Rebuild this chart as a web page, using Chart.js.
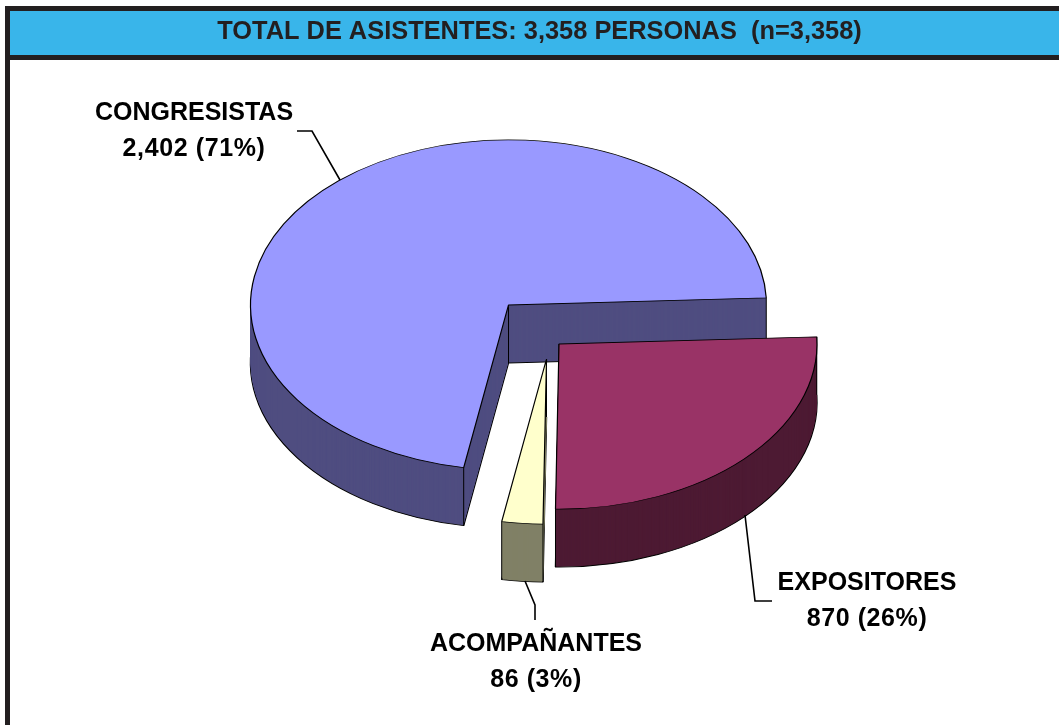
<!DOCTYPE html>
<html>
<head>
<meta charset="utf-8">
<style>html,body{margin:0;padding:0;background:#fff}canvas{display:block}</style>
<script src="https://cdn.jsdelivr.net/npm/chart.js@4"></script>
</head>
<body>
<canvas id="c" width="1059" height="725"></canvas>
<script>
const categories = ['CONGRESISTAS', 'EXPOSITORES', 'ACOMPAÑANTES'];
const values = [2402, 870, 86];
const shares = [71, 26, 3];
const chartTitle = 'TOTAL DE ASISTENTES: 3,358 PERSONAS  (n=3,358)';

const topColors = ['#9999ff', '#993366', '#ffffcc'];
const sideColors = ['#4f4d80', '#4d1a33', '#808066'];
const INK = '#231f20';
const center = {x: 508.5, y: 305};
const squash = 0.64, depth = 58;
const explode = [[0, 0], [50.5, 39], [38, 54]];
const drawOrder = [0, 2, 1];
const labelLayout = [
  {x: 194, y: [120, 156], leader: [[297,131],[312,131],[340,180]]},
  {x: 867, y: [590, 626], leader: [[745,515],[755,601],[772,601]]},
  {x: 536, y: [651, 687], leader: [[525,581],[535,605],[535,620]]}
];

const frame = {
  id: 'frame',
  beforeDraw(chart) {
    const {ctx, width, height} = chart;
    ctx.save();
    ctx.fillStyle = '#fff'; ctx.fillRect(0, 0, width, height);
    ctx.fillStyle = '#39b5ea'; ctx.fillRect(10, 11, width - 10, 44);
    ctx.fillStyle = INK;
    ctx.fillRect(5, 6, width - 5, 5);
    ctx.fillRect(5, 55, width - 5, 5);
    ctx.fillRect(5, 6, 5, height - 6);
    ctx.restore();
  }
};

const pie3d = {
  id: 'pie3d',
  beforeDatasetsDraw(chart) {
    const {ctx} = chart;
    const arcs = chart.getDatasetMeta(0).data;
    const paint = (el, dy, ex, bg, bc, bw) => {
      const saved = el.options;
      el.options = Object.assign(Object.create(saved), {backgroundColor: bg, borderColor: bc, borderWidth: bw});
      ctx.save();
      ctx.translate(center.x + ex[0], center.y + ex[1] + dy);
      ctx.scale(1, squash);
      ctx.translate(-el.x, -el.y);
      el.draw(ctx);
      ctx.restore();
      el.options = saved;
    };
    drawOrder.forEach(i => {
      const el = arcs[i], ex = explode[i];
      paint(el, depth, ex, sideColors[i], '#000', 1.4);
      for (let d = depth - 1; d >= 1; d--) paint(el, d, ex, sideColors[i], sideColors[i], 0);
      const cx = center.x + ex[0], cy = center.y + ex[1];
      const r = el.outerRadius;
      ctx.save();
      ctx.strokeStyle = '#000'; ctx.lineWidth = 1;
      [[cx, cy],
       [cx + r * Math.cos(el.startAngle), cy + squash * r * Math.sin(el.startAngle)],
       [cx + r * Math.cos(el.endAngle), cy + squash * r * Math.sin(el.endAngle)]
      ].forEach(([x, y]) => {
        ctx.beginPath(); ctx.moveTo(x, y); ctx.lineTo(x, y + depth); ctx.stroke();
      });
      ctx.restore();
      paint(el, 0, ex, topColors[i], '#000', 1.2);
    });
    return false;
  }
};

const labels3d = {
  id: 'labels3d',
  afterDraw(chart) {
    const {ctx} = chart;
    ctx.save();
    ctx.fillStyle = '#000';
    ctx.strokeStyle = '#000';
    ctx.lineWidth = 1.6;
    ctx.textAlign = 'center';
    ctx.textBaseline = 'alphabetic';
    ctx.font = 'bold 25px "Liberation Sans", Arial, sans-serif';
    labelLayout.forEach((l, i) => {
      ctx.letterSpacing = '0px';
      ctx.fillText(categories[i], l.x, l.y[0]);
      ctx.letterSpacing = '0.6px';
      ctx.fillText(values[i].toLocaleString('en-US') + ' (' + shares[i] + '%)', l.x, l.y[1]);
      ctx.beginPath();
      l.leader.forEach(([x, y], k) => k ? ctx.lineTo(x, y) : ctx.moveTo(x, y));
      ctx.stroke();
    });
    ctx.restore();
  }
};

new Chart(document.getElementById('c'), {
  type: 'pie',
  data: {
    labels: categories,
    datasets: [{data: values, backgroundColor: topColors, borderColor: '#000', borderWidth: 1.2}]
  },
  plugins: [frame, pie3d, labels3d],
  options: {
    responsive: false,
    animation: false,
    events: [],
    rotation: 190,
    radius: 258,
    layout: {padding: {left: 20}},
    plugins: {
      legend: {display: false},
      tooltip: {enabled: false},
      title: {
        display: true,
        text: chartTitle,
        color: INK,
        font: {family: '"Liberation Sans", Arial, sans-serif', size: 25.4, weight: 'bold', lineHeight: 1.2},
        padding: {top: 17, bottom: 10}
      }
    }
  }
});
</script>
</body>
</html>
